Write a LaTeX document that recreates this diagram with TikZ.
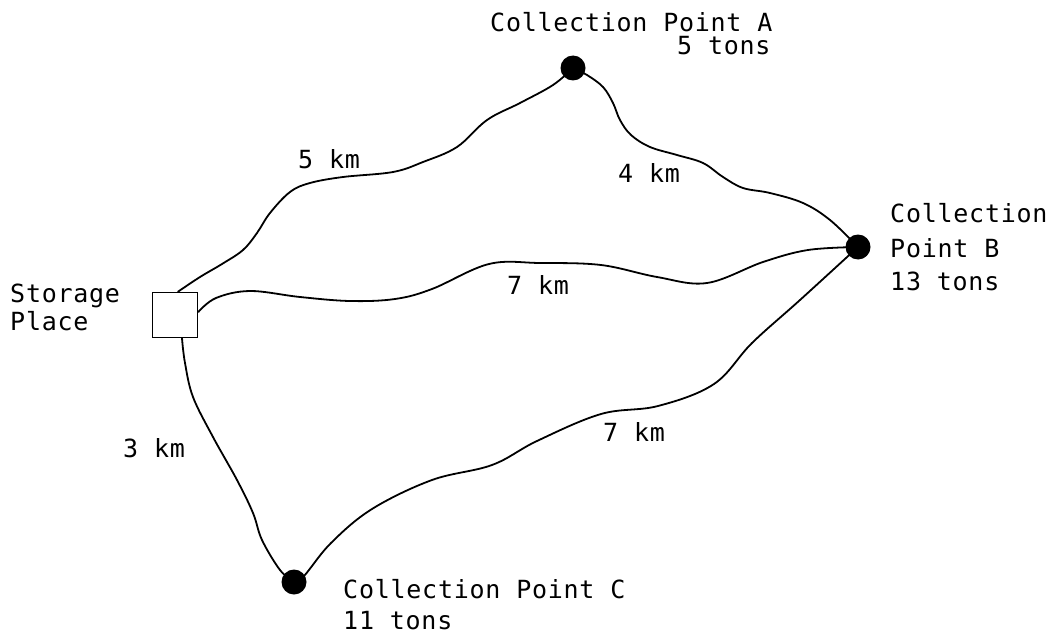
\documentclass[tikz,border=0pt]{standalone}
\usepackage{fontspec}
\setmonofont{DejaVu Sans Mono}[LetterSpace=3]
\usetikzlibrary{backgrounds}
\begin{document}
\begin{tikzpicture}[x=1pt,y=-1pt,
  site/.style={circle,fill=black,inner sep=0pt,minimum size=25pt},
  depot/.style={draw,line width=1.6pt,fill=white,minimum size=45pt,inner sep=0pt},
  road/.style={line width=1.8pt,line join=round,line cap=round},
  txt/.style={anchor=base west,inner sep=0pt,font=\ttfamily\fontsize{25}{30}\selectfont}]
\useasboundingbox (0,0) rectangle (1055,634);

% places
\node[depot] (S) at (175,315) {};
\node[site] (A) at (573,68) {};
\node[site] (B) at (858,247) {};
\node[site] (C) at (294,582) {};

% road ends on the storage square
\coordinate (sN) at ([xshift=3pt]S.north);
\coordinate (sE) at ([yshift=3pt]S.east);
\coordinate (sS) at ([xshift=7pt]S.south);

% roads
\begin{scope}[on background layer]
\draw[road] plot[smooth,tension=0.6] coordinates {(sN) (200,277) (222,264) (243,250) (257,233) (270,213) (290,192) (310,183) (343,177) (393,172) (423,162) (457,147) (487,120) (520,103) (553,85) (A)};
\draw[road] plot[smooth,tension=0.6] coordinates {(A) (587,75) (603,87) (613,103) (620,120) (631,135) (650,147) (677,155) (703,163) (723,177) (743,188) (770,193) (803,203) (830,220) (B)};
\draw[road] plot[smooth,tension=0.6] coordinates {(sE) (216,298) (250,291) (300,297) (350,301) (395,299) (432,289) (489,264) (540,263) (601,265) (657,277) (707,283) (763,262) (808,250) (B)};
\draw[road] plot[smooth,tension=0.6] coordinates {(sS) (185,363) (193,397) (213,437) (237,480) (253,513) (262,540) (280,570) (C)};
\draw[road] plot[smooth,tension=0.6] coordinates {(C) (304,576) (331,543) (372,509) (432,480) (492,465) (537,441) (601,414) (658,406) (714,384) (752,343) (800,300) (B)};
\end{scope}

% place labels
\node[txt] (la1) at (490,32) {Collection Point A};
\node[txt] (la2) at (677,55) {5 tons};
\node[txt] (lb1) at (890,222) {Collection};
\node[txt] (lb2) at (890,257) {Point B};
\node[txt] (lb3) at (890,290) {13 tons};
\node[txt] (ls1) at (10,302) {Storage};
\node[txt] (ls2) at (10,330) {Place};
\node[txt] (lc1) at (343,598) {Collection Point C};
\node[txt] (lc2) at (343,629) {11 tons};

% distances
\node[txt] (d1) at (298,168) {5 km};
\node[txt] (d2) at (618,182) {4 km};
\node[txt] (d3) at (507,294) {7 km};
\node[txt] (d4) at (603,441) {7 km};
\node[txt] (d5) at (123,457) {3 km};
\end{tikzpicture}
\end{document}
